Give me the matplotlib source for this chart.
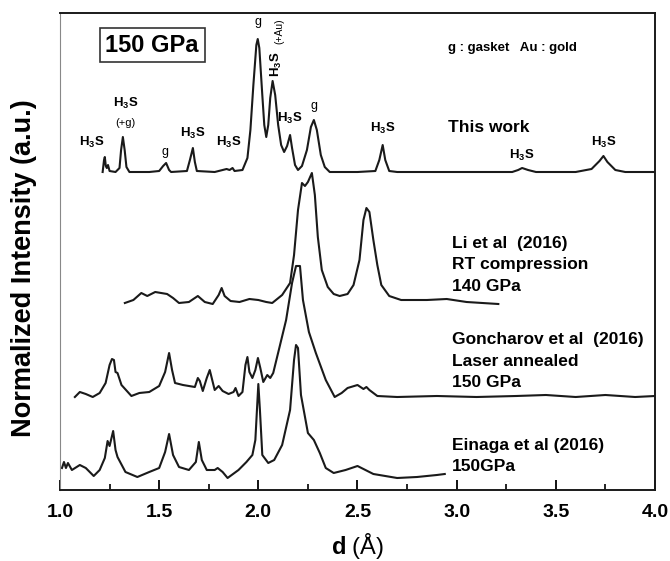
import matplotlib
matplotlib.use("Agg")
import matplotlib.pyplot as plt
from matplotlib.ticker import MultipleLocator

plt.rcParams['font.family'] = ['Liberation Sans', 'DejaVu Sans']
plt.rcParams['mathtext.fontset'] = 'custom'
plt.rcParams['mathtext.rm'] = 'Liberation Sans'
plt.rcParams['mathtext.bf'] = 'Liberation Sans:bold'
plt.rcParams['mathtext.it'] = 'Liberation Sans:italic'

# ---- data (d in Angstrom, intensity in arbitrary stacked units) ----
this_d = [1.215, 1.222, 1.226, 1.231, 1.236, 1.242, 1.25, 1.28, 1.30, 1.308, 1.317, 1.326, 1.335, 1.35,
          1.45, 1.50, 1.52, 1.535, 1.55, 1.56, 1.64, 1.655, 1.67, 1.68, 1.69, 1.78, 1.82, 1.84, 1.855,
          1.87, 1.88, 1.92, 1.945, 1.96, 1.975, 1.99, 1.997, 2.005, 2.02, 2.03, 2.04, 2.05, 2.06, 2.072,
          2.085, 2.10, 2.115, 2.13, 2.145, 2.16, 2.17, 2.185, 2.20, 2.22, 2.245, 2.265, 2.28, 2.295,
          2.315, 2.335, 2.36, 2.50, 2.59, 2.61, 2.627, 2.64, 2.66, 2.70, 3.00, 3.28, 3.31, 3.33, 3.36,
          3.40, 3.60, 3.68, 3.72, 3.74, 3.76, 3.80, 3.85, 4.00]
this_i = [318, 330, 333, 324, 322, 325, 319, 318, 322, 340, 353, 340, 323, 318,
          318, 319, 324, 327, 320, 318, 319, 330, 342, 328, 319, 318, 320, 321, 320,
          322, 319, 320, 332, 360, 405, 445, 451, 442, 395, 365, 353, 365, 392, 409,
          395, 365, 345, 338, 344, 355, 342, 325, 320, 324, 340, 363, 370, 360,
          335, 323, 318, 318, 319, 330, 345, 330, 319, 318, 318, 318, 320, 322, 320,
          318, 318, 321, 329, 334, 328, 320, 318, 318]

li_d = [1.327, 1.37, 1.41, 1.44, 1.48, 1.54, 1.57, 1.60, 1.65, 1.695, 1.73, 1.77, 1.80, 1.815, 1.83,
        1.86, 1.905, 1.955, 2.00, 2.04, 2.07, 2.12, 2.16, 2.18, 2.20, 2.22, 2.235, 2.25, 2.27, 2.285,
        2.30, 2.32, 2.35, 2.38, 2.41, 2.45, 2.48, 2.51, 2.53, 2.545, 2.56, 2.58, 2.60, 2.62, 2.66,
        2.72, 2.85, 2.95, 3.05, 3.21]
li_i = [187, 190, 197, 194, 198, 196, 192, 187, 188, 194, 188, 186, 195, 202, 194,
        189, 188, 191, 190, 188, 187, 195, 207, 235, 280, 307, 304, 308, 317, 295,
        253, 220, 203, 196, 194, 196, 205, 230, 270, 282, 278, 250, 225, 205, 194,
        190, 190, 191, 188, 186]

gon_d = [1.075, 1.10, 1.13, 1.165, 1.20, 1.23, 1.25, 1.262, 1.272, 1.28, 1.29, 1.31, 1.36, 1.40, 1.45,
         1.50, 1.53, 1.55, 1.565, 1.58, 1.62, 1.68, 1.695, 1.705, 1.72, 1.74, 1.755, 1.765, 1.78,
         1.80, 1.82, 1.85, 1.875, 1.885, 1.90, 1.92, 1.935, 1.945, 1.955, 1.97, 1.985, 1.998, 2.01,
         2.025, 2.045, 2.06, 2.075, 2.107, 2.14, 2.17, 2.19, 2.21, 2.225, 2.255, 2.29, 2.34, 2.385,
         2.42, 2.45, 2.50, 2.53, 2.545, 2.56, 2.60, 2.70, 2.90, 3.10, 3.30, 3.45, 3.60, 3.75, 3.90, 4.00]
gon_i = [93, 98, 96, 93, 97, 107, 125, 131, 130, 118, 117, 105, 94, 97, 98,
         104, 118, 137, 120, 107, 105, 103, 112, 109, 99, 112, 120, 112, 100,
         104, 99, 96, 98, 102, 94, 98, 125, 133, 118, 112, 120, 132, 122,
         108, 115, 112, 117, 143, 170, 207, 224, 224, 190, 158, 137, 110, 93,
         97, 102, 105, 101, 103, 100, 94, 93, 94, 93, 94, 95, 93, 95, 93, 94]

ein_d = [1.01, 1.02, 1.03, 1.04, 1.06, 1.10, 1.13, 1.17, 1.20, 1.226, 1.24, 1.25, 1.268, 1.28, 1.29,
         1.33, 1.39, 1.45, 1.50, 1.53, 1.55, 1.57, 1.60, 1.65, 1.685, 1.70, 1.715, 1.74, 1.78, 1.795,
         1.82, 1.845, 1.90, 1.94, 1.97, 1.985, 1.993, 2.00, 2.008, 2.02, 2.05, 2.08, 2.12, 2.16, 2.18,
         2.19, 2.20, 2.215, 2.25, 2.28, 2.31, 2.34, 2.38, 2.44, 2.50, 2.54, 2.58, 2.70, 2.80, 2.90, 2.94]
ein_i = [22, 28, 22, 27, 20, 25, 22, 14, 20, 32, 49, 44, 59, 40, 33,
         18, 13, 18, 22, 38, 56, 35, 23, 20, 28, 48, 30, 20, 20, 22,
         18, 12, 20, 28, 35, 50, 80, 106, 80, 35, 27, 30, 45, 80, 130,
         145, 142, 95, 57, 50, 37, 22, 17, 20, 24, 20, 16, 12, 13, 15, 16]

x_ticks = [1.0, 1.5, 2.0, 2.5, 3.0, 3.5, 4.0]

# ---- figure ----
fig = plt.figure(figsize=(6.7, 5.61), dpi=100)
ax = fig.add_axes([60/670, 1-490/561, 595/670, 477/561])

for d, i in [(this_d, this_i), (li_d, li_i), (gon_d, gon_i), (ein_d, ein_i)]:
    ax.plot(d, i, color='#1a1a1a', lw=1.5, solid_joinstyle='round')

ax.set_xlim(1.0, 4.0)
ax.set_ylim(0, 477)
ax.set_yticks([])
ax.set_xticks(x_ticks)
ax.set_xticklabels([f"{t:.1f}" for t in x_ticks], fontsize=14, fontweight='bold')
ax.xaxis.set_minor_locator(MultipleLocator(0.25))
ax.tick_params(axis='x', which='major', direction='in', length=7, width=1.3, pad=10)
ax.tick_params(axis='x', which='minor', direction='in', length=4, width=1.2)
for s in ['top', 'right', 'bottom']:
    ax.spines[s].set_linewidth(1.4)
    ax.spines[s].set_color('#1a1a1a')
ax.spines['left'].set_linewidth(0.8)
ax.spines['left'].set_color('#888888')

fig.text(24/670, 1-268/561, "Normalized Intensity (a.u.)", fontsize=19.5, fontweight='bold',
         rotation=90, ha='center', va='center')
ax.set_xlabel(r"$\mathbf{d}$ (Å)", fontsize=17, labelpad=7)

# ---- annotations ----
h3s = r"H$_\mathbf{3}$S"
kw = dict(fontsize=9.5, fontweight='bold', ha='center', va='center')
ax.text(1.16, 490-142, h3s, **kw)
ax.text(1.33, 490-103, h3s, **kw)
ax.text(1.33, 490-123, "(+g)", fontsize=8, ha='center', va='center')
ax.text(1.53, 490-152, "g", fontsize=9, ha='center', va='center')
ax.text(1.67, 490-133, h3s, **kw)
ax.text(1.85, 490-142, h3s, **kw)
ax.text(2.00, 490-22, "g", fontsize=9, ha='center', va='center')
ax.text(2.09, 490-64, h3s, rotation=90, **kw)
ax.text(2.105, 490-31, "(+Au)", rotation=90, fontsize=7.5, ha='center', va='center')
ax.text(2.16, 490-118, h3s, **kw)
ax.text(2.28, 490-106, "g", fontsize=9, ha='center', va='center')
ax.text(2.627, 490-128, h3s, **kw)
ax.text(3.33, 490-155, h3s, **kw)
ax.text(3.74, 490-142, h3s, **kw)

ax.text(2.956, 490-48, "g : gasket   Au : gold", fontsize=9.5, fontweight='bold', ha='left', va='center')
ax.text(2.956, 490-128, "This work", fontsize=12.5, fontweight='bold', ha='left', va='center')

lab = dict(fontsize=12.5, fontweight='bold', ha='left', va='center', linespacing=1.58)
ax.text(2.976, 490-265, "Li et al  (2016)\nRT compression\n140 GPa", **lab)
ax.text(2.976, 490-361, "Goncharov et al  (2016)\nLaser annealed\n150 GPa", **lab)
ax.text(2.976, 490-456, "Einaga et al (2016)\n150GPa", **lab)

ax.text(1.465, 490-45, "150 GPa", fontsize=17, fontweight='bold', ha='center', va='center',
        bbox=dict(boxstyle='square,pad=0.25', fc='white', ec='#333333', lw=1.2))

fig.savefig("out.png", dpi=100)
